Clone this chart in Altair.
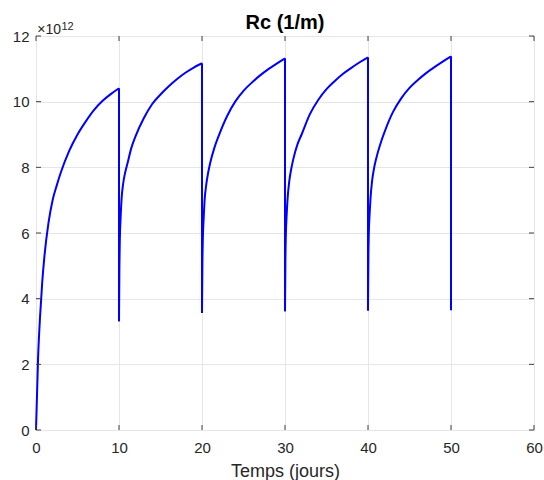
import altair as alt
import pandas as pd

# ---- data (values in units of 1e12 1/m) ----
# each cycle: rising branch from the post-drop minimum to the peak
t1 = [0, 0.25, 0.5, 0.75, 1, 1.5, 2, 2.5, 3, 4, 5, 6, 7, 8, 9, 10]
v1 = [0, 2.2, 3.5, 4.5, 5.25, 6.3, 7.0, 7.45, 7.85, 8.5, 9.0, 9.4, 9.75, 10.02, 10.23, 10.41]

t2 = [10, 10.05, 10.1, 10.2, 10.3, 10.5, 10.75, 11, 11.5, 12, 13, 14, 15, 16, 17, 18, 19, 20]
v2 = [3.31, 5.0, 5.8, 6.5, 7.0, 7.5, 7.85, 8.1, 8.6, 8.95, 9.5, 9.93, 10.22, 10.47, 10.69, 10.88, 11.04, 11.17]

t3 = [20, 20.05, 20.1, 20.2, 20.3, 20.5, 20.75, 21, 21.5, 22, 23, 24, 25, 26, 27, 28, 29, 30]
v3 = [3.56, 5.1, 5.8, 6.45, 6.95, 7.45, 7.85, 8.15, 8.6, 8.95, 9.55, 10.0, 10.33, 10.58, 10.8, 10.99, 11.16, 11.32]

t4 = [30, 30.05, 30.1, 30.2, 30.3, 30.5, 30.75, 31, 31.5, 32, 33, 34, 35, 36, 37, 38, 39, 40]
v4 = [3.62, 5.2, 5.9, 6.55, 7.0, 7.55, 7.95, 8.25, 8.7, 9.0, 9.62, 10.05, 10.38, 10.63, 10.85, 11.03, 11.2, 11.35]

t5 = [40, 40.05, 40.1, 40.2, 40.3, 40.5, 40.75, 41, 41.5, 42, 43, 44, 45, 46, 47, 48, 49, 50]
v5 = [3.64, 5.3, 6.0, 6.6, 7.05, 7.6, 8.0, 8.28, 8.72, 9.08, 9.68, 10.1, 10.42, 10.66, 10.87, 11.05, 11.22, 11.38]

# vertical drops: time, peak value, minimum value after the drop
drop_t = [10, 20, 30, 40, 50]
drop_hi = [10.41, 11.17, 11.32, 11.35, 11.38]
drop_lo = [3.31, 3.56, 3.62, 3.64, 3.65]

x_ticks = [0, 10, 20, 30, 40, 50, 60]
y_ticks = [0, 2, 4, 6, 8, 10, 12]

cycles = [(t1, v1), (t2, v2), (t3, v3), (t4, v4), (t5, v5)]
rows = []
for k, (tt, vv) in enumerate(cycles):
    for j, (a, b) in enumerate(zip(tt, vv)):
        rows.append({"t": a, "v": b, "c": k, "i": j})
df = pd.DataFrame(rows)

drows = []
for k, (a, hi, lo) in enumerate(zip(drop_t, drop_hi, drop_lo)):
    drows.append({"t": a, "v": hi, "c": k, "i": 0})
    drows.append({"t": a, "v": lo, "c": k, "i": 1})
ddf = pd.DataFrame(drows)

W, H = 498, 394
FONT = "Liberation Sans"
TXT = "#262626"
FRAME = "#404040"
BLUE = "#0000ff"
TL = 5

xs = alt.Scale(domain=[0, 60], nice=False, zero=False)
ys = alt.Scale(domain=[0, 12], nice=False, zero=False)

xaxis = alt.Axis(
    values=x_ticks, title="Temps (jours)", grid=True, gridColor="#e6e6e6",
    domain=False, ticks=False, tickSize=0, labelPadding=10.5,
    labelFont=FONT, labelFontSize=15, labelColor=TXT, labelFlush=False,
    titleFont=FONT, titleFontSize=18, titleFontWeight="normal", titleColor=TXT,
    titlePadding=7)
yaxis = alt.Axis(
    values=y_ticks, title=None, grid=True, gridColor="#e6e6e6",
    domain=False, ticks=False, tickSize=0, labelPadding=7,
    labelFont=FONT, labelFontSize=15, labelColor=TXT, labelFlush=False)

curve = alt.Chart(df).mark_line(color=BLUE, strokeWidth=2, interpolate="monotone").encode(
    x=alt.X("t:Q", scale=xs, axis=xaxis),
    y=alt.Y("v:Q", scale=ys, axis=yaxis),
    detail="c:N",
    order="i:Q",
)

drops = alt.Chart(ddf).mark_line(color=BLUE, strokeWidth=2).encode(
    x=alt.X("t:Q", scale=xs, axis=xaxis),
    y=alt.Y("v:Q", scale=ys, axis=yaxis),
    detail="c:N",
    order="i:Q",
)

xt_df = pd.DataFrame({"t": x_ticks})
yt_df = pd.DataFrame({"v": y_ticks})

xt_bottom = alt.Chart(xt_df).mark_rule(color=FRAME, strokeWidth=1).encode(
    x=alt.X("t:Q", scale=xs, axis=xaxis), y=alt.value(H), y2=alt.value(H - TL))
xt_top = alt.Chart(xt_df).mark_rule(color=FRAME, strokeWidth=1).encode(
    x=alt.X("t:Q", scale=xs, axis=xaxis), y=alt.value(0), y2=alt.value(TL))
yt_left = alt.Chart(yt_df).mark_rule(color=FRAME, strokeWidth=1).encode(
    y=alt.Y("v:Q", scale=ys, axis=yaxis), x=alt.value(0), x2=alt.value(TL))
yt_right = alt.Chart(yt_df).mark_rule(color=FRAME, strokeWidth=1).encode(
    y=alt.Y("v:Q", scale=ys, axis=yaxis), x=alt.value(W), x2=alt.value(W - TL))

exp_base = alt.Chart(pd.DataFrame({"s": ["×10"]})).mark_text(
    font=FONT, fontSize=14, color=TXT, align="left", baseline="alphabetic"
).encode(text="s:N", x=alt.value(1.3), y=alt.value(-2))
exp_pow = alt.Chart(pd.DataFrame({"s": ["12"]})).mark_text(
    font=FONT, fontSize=11, color=TXT, align="left", baseline="alphabetic"
).encode(text="s:N", x=alt.value(25.5), y=alt.value(-6))

title = alt.Chart(pd.DataFrame({"s": ["Rc (1/m)"]})).mark_text(
    font=FONT, fontSize=20, fontWeight="bold", color="#000000",
    align="center", baseline="alphabetic"
).encode(text="s:N", x=alt.value(W / 2), y=alt.value(-6.7))

chart = alt.layer(
    curve, drops, xt_bottom, xt_top, yt_left, yt_right, exp_base, exp_pow, title
).properties(
    width=W, height=H,
    autosize=alt.AutoSizeParams(type="none"),
    padding={"left": 36, "top": 36, "right": 10, "bottom": 50},
).configure_view(
    stroke=FRAME, strokeWidth=1
).configure(background="white")

chart.save("out.html", embed_options={"renderer": "svg", "actions": False})
